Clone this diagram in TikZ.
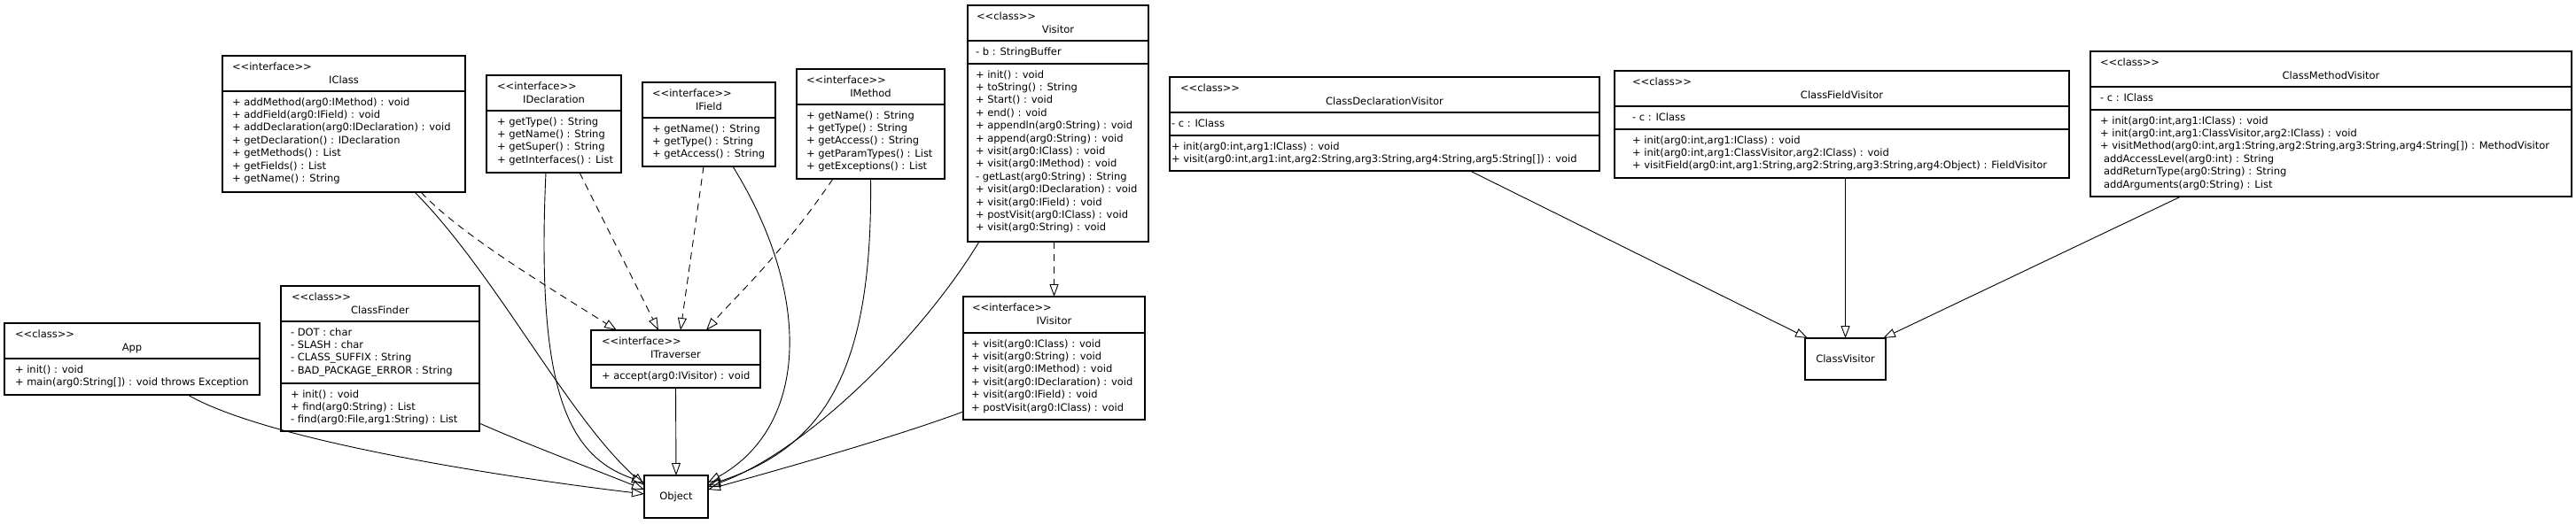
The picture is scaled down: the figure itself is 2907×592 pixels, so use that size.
\documentclass[tikz,border=0pt]{standalone}
\usepackage{fontspec}
\setmainfont{DejaVu Sans}
\usetikzlibrary{arrows.meta}
\newcommand{\umlfont}{\fontsize{11.5}{14.4}\selectfont}
\newcommand{\sterC}{{<}{<}class{>}{>}}
\newcommand{\sterI}{{<}{<}interface{>}{>}}
\newcommand{\umlhead}[6]{%
  \node[txt] (#1-s) at (#2,{#3+16.5}) {#5};
  \node[ctxt] (#1-n) at (#4,{#3+31.5}) {#6};}
\begin{document}
\begin{tikzpicture}[x=1pt,y=-1pt,
  box/.style={draw, line width=1.1pt, inner sep=0pt, outer sep=0pt, fill=white, font=\umlfont},
  sepl/.style={line width=1.1pt},
  txt/.style={font=\umlfont, inner sep=0pt, outer sep=0pt, anchor=base west, align=left},
  ctxt/.style={font=\umlfont, inner sep=0pt, outer sep=0pt, anchor=base},
  gen/.style={line width=0.9pt, -{Triangle[open,length=14pt,width=10pt]}},
  real/.style={gen, dash pattern=on 8pt off 6pt}]
\useasboundingbox[fill=white] (0,0) rectangle (2907,592);

% ---------- boxes ----------
\node[box, minimum width=288pt, minimum height=81pt] (app) at (149,405.5) {};
\node[box, minimum width=224pt, minimum height=164pt] (cf) at (429,405) {};
\node[box, minimum width=274pt, minimum height=154pt] (iclass) at (388,140) {};
\node[box, minimum width=152pt, minimum height=110pt] (idecl) at (625,140) {};
\node[box, minimum width=150pt, minimum height=95pt] (ifield) at (800,140.5) {};
\node[box, minimum width=167pt, minimum height=124pt] (imethod) at (982.5,140) {};
\node[box, minimum width=204pt, minimum height=267pt] (visitor) at (1194,139.5) {};
\node[box, minimum width=191pt, minimum height=65pt] (itrav) at (762.5,405.5) {};
\node[box, minimum width=205pt, minimum height=139pt] (ivisitor) at (1189.5,404.5) {};
\node[box, minimum width=72pt, minimum height=48pt] (obj) at (763,561) {Object};
\node[box, minimum width=91pt, minimum height=47pt] (cv) at (2082.5,405.5) {ClassVisitor};
\node[box, minimum width=485pt, minimum height=106pt] (cdv) at (1562.5,140) {};
\node[box, minimum width=513pt, minimum height=121pt] (cfv) at (2078.5,140.5) {};
\node[box, minimum width=543pt, minimum height=164pt] (cmv) at (2630.5,140) {};

% ---------- separators ----------
\draw[sepl] (5,405) -- (293,405);
\draw[sepl] (317,363) -- (541,363);
\draw[sepl] (317,433) -- (541,433);
\draw[sepl] (251,103) -- (525,103);
\draw[sepl] (549,125) -- (701,125);
\draw[sepl] (725,133) -- (875,133);
\draw[sepl] (899,118) -- (1066,118);
\draw[sepl] (1092,46) -- (1296,46);
\draw[sepl] (1092,72) -- (1296,72);
\draw[sepl] (667,412) -- (858,412);
\draw[sepl] (1087,376) -- (1292,376);
\draw[sepl] (1320,127) -- (1805,127);
\draw[sepl] (1320,153) -- (1805,153);
\draw[sepl] (1822,120) -- (2335,120);
\draw[sepl] (1822,146) -- (2335,146);
\draw[sepl] (2359,98) -- (2902,98);
\draw[sepl] (2359,124) -- (2902,124);

% ---------- texts (multi-line nodes: base = last line) ----------
\umlhead{app}{17}{365}{149}{\sterC}{App}
\node[txt] (app-m) at (17,435.4) {+ init() : void\\+ main(arg0:String[]) : void throws Exception};

\umlhead{cf}{329}{323}{429}{\sterC}{ClassFinder}
\node[txt] (cf-f) at (328,422.2) {- DOT : char\\- SLASH : char\\- CLASS\_SUFFIX : String\\- BAD\_PACKAGE\_ERROR : String};
\node[txt] (cf-m) at (328,477.8) {+ init() : void\\+ find(arg0:String) : List\\- find(arg0:File,arg1:String) : List};

\umlhead{iclass}{262}{63}{388}{\sterI}{IClass}
\node[txt] (iclass-m) at (262,205.4) {+ addMethod(arg0:IMethod) : void\\+ addField(arg0:IField) : void\\+ addDeclaration(arg0:IDeclaration) : void\\+ getDeclaration() : IDeclaration\\+ getMethods() : List\\+ getFields() : List\\+ getName() : String};

\umlhead{idecl}{561}{85}{625}{\sterI}{IDeclaration}
\node[txt] (idecl-m) at (561,184.2) {+ getType() : String\\+ getName() : String\\+ getSuper() : String\\+ getInterfaces() : List};

\umlhead{ifield}{736}{93}{800}{\sterI}{IField}
\node[txt] (ifield-m) at (736,177.8) {+ getName() : String\\+ getType() : String\\+ getAccess() : String};

\umlhead{imethod}{910}{78}{982.5}{\sterI}{IMethod}
\node[txt] (imethod-m) at (910,191.6) {+ getName() : String\\+ getType() : String\\+ getAccess() : String\\+ getParamTypes() : List\\+ getExceptions() : List};

\umlhead{visitor}{1102}{6}{1194}{\sterC}{Visitor}
\node[txt] (visitor-f) at (1101,62) {- b : StringBuffer};
\node[txt] (visitor-m) at (1101,260.8) {+ init() : void\\+ toString() : String\\+ Start() : void\\+ end() : void\\+ appendln(arg0:String) : void\\+ append(arg0:String) : void\\+ visit(arg0:IClass) : void\\+ visit(arg0:IMethod) : void\\- getLast(arg0:String) : String\\+ visit(arg0:IDeclaration) : void\\+ visit(arg0:IField) : void\\+ postVisit(arg0:IClass) : void\\+ visit(arg0:String) : void};

\umlhead{itrav}{679}{373}{762.5}{\sterI}{ITraverser}
\node[txt] (itrav-m) at (679,428) {+ accept(arg0:IVisitor) : void};

\umlhead{ivisitor}{1097}{335}{1189.5}{\sterI}{IVisitor}
\node[txt] (ivisitor-m) at (1096,464) {+ visit(arg0:IClass) : void\\+ visit(arg0:String) : void\\+ visit(arg0:IMethod) : void\\+ visit(arg0:IDeclaration) : void\\+ visit(arg0:IField) : void\\+ postVisit(arg0:IClass) : void};

\umlhead{cdv}{1332}{87}{1562.5}{\sterC}{ClassDeclarationVisitor}
\node[txt] (cdv-f) at (1322,143) {- c : IClass};
\node[txt] (cdv-m) at (1322,183.4) {+ init(arg0:int,arg1:IClass) : void\\+ visit(arg0:int,arg1:int,arg2:String,arg3:String,arg4:String,arg5:String[]) : void};

\umlhead{cfv}{1842}{80}{2078.5}{\sterC}{ClassFieldVisitor}
\node[txt] (cfv-f) at (1842,136) {- c : IClass};
\node[txt] (cfv-m) at (1842,190.8) {+ init(arg0:int,arg1:IClass) : void\\+ init(arg0:int,arg1:ClassVisitor,arg2:IClass) : void\\+ visitField(arg0:int,arg1:String,arg2:String,arg3:String,arg4:Object) : FieldVisitor};

\umlhead{cmv}{2370}{58}{2630.5}{\sterC}{ClassMethodVisitor}
\node[txt] (cmv-f) at (2370,114) {- c : IClass};
\node[txt] (cmv-m) at (2370,212) {+ init(arg0:int,arg1:IClass) : void\\+ init(arg0:int,arg1:ClassVisitor,arg2:IClass) : void\\+ visitMethod(arg0:int,arg1:String,arg2:String,arg3:String,arg4:String[]) : MethodVisitor\\\hspace*{4pt}addAccessLevel(arg0:int) : String\\\hspace*{4pt}addReturnType(arg0:String) : String\\\hspace*{4pt}addArguments(arg0:String) : List};

% ---------- connectors ----------
\draw[gen] ([xshift=63pt]app.south) .. controls (300,497) and (560,538) .. ([yshift=3pt]obj.west);
\draw[gen] ([yshift=-73pt]cf.east) .. controls (590,500) and (670,530) .. ([yshift=8pt]obj.west);
\draw[gen] ([xshift=80pt]iclass.south) .. controls (560,310) and (640,470) .. ([yshift=13pt]obj.west);
\draw[real] ([xshift=87pt]iclass.south) .. controls (520,265) and (620,325) .. ([xshift=-66.5pt]itrav.north);
\draw[gen] ([xshift=-9pt]idecl.south) .. controls (605,440) and (640,515) .. ([yshift=16pt]obj.west);
\draw[real] ([xshift=29pt]idecl.south) -- ([xshift=-19.5pt]itrav.north);
\draw[real] ([xshift=-6pt]ifield.south) -- ([xshift=5.5pt]itrav.north);
\draw[gen] ([xshift=27pt]ifield.south) .. controls (915,330) and (915,480) .. ([yshift=16pt]obj.east);
\draw[real] ([xshift=-42.5pt]imethod.south) .. controls (880,290) and (830,335) .. ([xshift=34.5pt]itrav.north);
\draw[gen] (imethod.south) .. controls (985,420) and (930,505) .. ([yshift=13pt]obj.east);
\draw[gen] ([xshift=-89pt]visitor.south) .. controls (1040,380) and (910,510) .. ([yshift=11pt]obj.east);
\draw[real] (visitor.south -| ivisitor.north) -- (ivisitor.north);
\draw[gen] (itrav.south) -- (obj.north);
\draw[gen] ([yshift=-60.5pt]ivisitor.west) .. controls (1000,497) and (880,530) .. ([yshift=8pt]obj.east);
\draw[gen] ([xshift=96.5pt]cdv.south) -- ([xshift=3pt]cv.north west);
\draw[gen] (cfv.south -| cv.north) -- (cv.north);
\draw[gen] ([xshift=-169.5pt]cmv.south) -- ([xshift=-3pt]cv.north east);
\end{tikzpicture}
\end{document}
